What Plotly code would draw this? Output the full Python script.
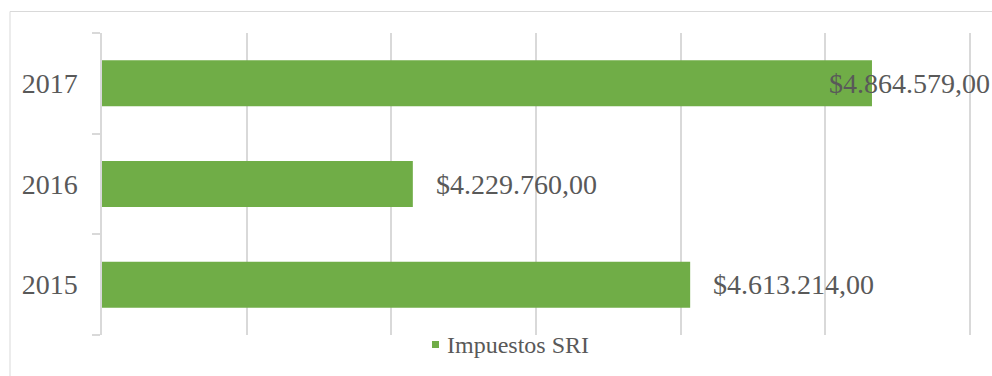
import plotly.graph_objects as go

# Recaudación anual de impuestos (SRI)
years = ["2015", "2016", "2017"]
impuestos = [4613214.00, 4229760.00, 4864579.00]
series_name = "Impuestos SRI"

x_min, x_max, x_step = 3800000, 5000000, 200000

W, H = 992, 376
M_L, M_R, M_T, M_B = 102, 21, 33, 41
PLOT_W = W - M_L - M_R
PLOT_H = H - M_T - M_B

GREEN = "#70AD47"
GRID = "#D9D9D9"
TEXT = "#595959"
FONT = "Liberation Serif, Times New Roman, serif"


def money(v):
    s = f"{v:,.2f}"
    return "$" + s.replace(",", "X").replace(".", ",").replace("X", ".")


def px_x(p):
    return (p - M_L) / PLOT_W


def px_y(p):
    return (H - M_B - p) / PLOT_H


fig = go.Figure(
    go.Bar(
        y=years,
        x=impuestos,
        orientation="h",
        marker=dict(color=GREEN, line=dict(width=0)),
        name=series_name,
        showlegend=False,
        hoverinfo="skip",
    )
)

# value labels: to the right of each bar, pulled back inside the chart if too wide
label_w = 165
annotations = []
for i, v in enumerate(impuestos):
    bar_end = M_L + (v - x_min) / (x_max - x_min) * PLOT_W
    if bar_end + 24 + label_w > W:
        annotations.append(dict(
            x=px_x(W), xref="paper", y=i, yref="y", xanchor="right",
            text=money(v), showarrow=False,
            font=dict(family=FONT, size=28, color=TEXT),
        ))
    else:
        annotations.append(dict(
            x=v, xref="x", y=i, yref="y", xanchor="left", xshift=21,
            text=money(v), showarrow=False,
            font=dict(family=FONT, size=28, color=TEXT),
        ))

# legend entry
annotations.append(dict(
    x=px_x(445), xref="paper", y=px_y(345), yref="paper",
    xanchor="left", yanchor="middle", text=series_name, showarrow=False,
    font=dict(family=FONT, size=24, color=TEXT),
))

shapes = [
    # legend swatch
    dict(type="rect", xref="paper", yref="paper",
         x0=px_x(432), x1=px_x(439), y0=px_y(348), y1=px_y(341),
         fillcolor=GREEN, line=dict(width=0)),
    # chart frame (left and top edges)
    dict(type="line", xref="paper", yref="paper",
         x0=px_x(10), x1=px_x(10), y0=px_y(11.5), y1=px_y(H + 5),
         line=dict(color=GRID, width=1)),
    dict(type="line", xref="paper", yref="paper",
         x0=px_x(10), x1=px_x(W + 5), y0=px_y(11.5), y1=px_y(11.5),
         line=dict(color=GRID, width=1)),
]

fig.update_layout(
    width=W, height=H, autosize=False,
    margin=dict(l=M_L, r=M_R, t=M_T, b=M_B, pad=0),
    paper_bgcolor="white", plot_bgcolor="white",
    bargap=0.543,
    annotations=annotations,
    shapes=shapes,
    showlegend=False,
    font=dict(family=FONT, color=TEXT),
    xaxis=dict(
        # small overshoot so the last gridline is kept inside the plot area
        range=[x_min, x_max + 1500], dtick=x_step, tick0=x_min,
        showticklabels=False, ticks="",
        showgrid=True, gridcolor=GRID, gridwidth=1.5,
        zeroline=False, showline=False,
    ),
    yaxis=dict(
        type="category", categoryorder="array", categoryarray=years,
        range=[-0.5, len(years) - 0.5], autorange=False,
        showgrid=False, zeroline=False,
        showline=True, linecolor=GRID, linewidth=1.5,
        ticks="outside", tickson="boundaries", ticklen=8,
        tickcolor=GRID, tickwidth=1.5,
        ticklabelstandoff=17,
        tickfont=dict(family=FONT, size=28, color=TEXT),
    ),
)

fig.write_html("out.html")
